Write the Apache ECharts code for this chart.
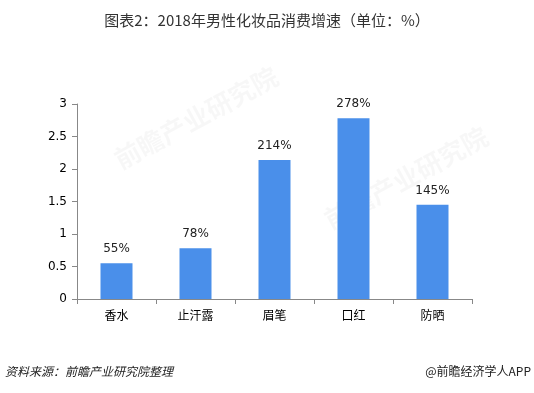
<!DOCTYPE html>
<html><head><meta charset="utf-8">
<script src="https://cdn.jsdelivr.net/npm/echarts@6/dist/echarts.min.js"></script>
<style>html,body{margin:0;padding:0;background:#fff}#c{width:534px;height:393px}</style>
</head><body><div id="c"></div>
<script>
const categories = ['香水','止汗露','眉笔','口红','防晒'];
const values = [0.55, 0.78, 2.14, 2.78, 1.45];
const labels = ['55%','78%','214%','278%','145%'];
const yTicks = [0, 0.5, 1, 1.5, 2, 2.5, 3];

const chart = echarts.init(document.getElementById('c'));
const font = '"Microsoft YaHei","Noto Sans CJK SC",sans-serif';
chart.setOption({
  animation: false,
  backgroundColor: '#fff',
  title: {
    text: '图表2：2018年男性化妆品消费增速（单位：%）',
    left: 'center', top: 8,
    textStyle: {fontSize: 15, fontWeight: 'normal', color: '#333', fontFamily: font}
  },
  grid: {left: 77, right: 62, top: 104, bottom: 94},
  xAxis: {
    type: 'category', data: categories,
    axisLine: {lineStyle: {color: '#888'}},
    axisTick: {show: true, alignWithLabel: false, lineStyle: {color: '#888'}, length: 5},
    axisLabel: {color: '#000', fontSize: 12, fontFamily: font, margin: 10}
  },
  yAxis: {
    type: 'value', min: yTicks[0], max: yTicks[yTicks.length-1], interval: 0.5,
    splitLine: {show: false},
    axisLine: {show: true, lineStyle: {color: '#888'}},
    axisTick: {show: true, lineStyle: {color: '#888'}, length: 5},
    axisLabel: {color: '#000', fontSize: 12, fontFamily: 'Verdana, "DejaVu Sans", sans-serif', margin: 10}
  },
  series: [{
    type: 'bar', data: values, barWidth: 32,
    itemStyle: {color: '#4A8FEA'},
    label: {
      show: true, position: 'top', distance: 8, color: '#222', fontSize: 12,
      fontFamily: 'Verdana, "DejaVu Sans", sans-serif',
      formatter: p => labels[p.dataIndex]
    }
  }],
  graphic: [
    {type: 'text', left: 5, top: 365, style: {text: '资料来源：前瞻产业研究院整理', font: 'italic 12px ' + font, fill: '#222'}},
    {type: 'text', right: 3, top: 365, style: {text: '@前瞻经济学人APP', font: '12px ' + font, fill: '#222'}},
    {type: 'text', x: 110, y: 150, rotation: 0.5, style: {text: '前瞻产业研究院', font: 'bold 26px ' + font, fill: 'rgba(0,0,0,0.03)'}},
    {type: 'text', x: 320, y: 210, rotation: 0.5, style: {text: '前瞻产业研究院', font: 'bold 26px ' + font, fill: 'rgba(0,0,0,0.03)'}}
  ]
});
</script></body></html>
